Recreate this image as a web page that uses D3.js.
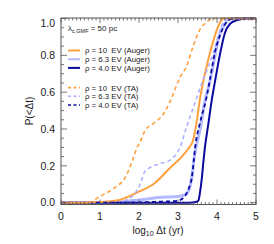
<!DOCTYPE html>
<html>
<head>
<meta charset="utf-8">
<script src="https://cdn.jsdelivr.net/npm/d3@7"></script>
<style>
  body { margin: 0; background: #fff; }
  text { font-family: "Liberation Sans", Arial, sans-serif; fill: #222; }
</style>
</head>
<body>
<div id="chart"></div>
<script>
// cumulative distributions, x = log10 dt (yr)
const augerX10 = [0, 0.6, 1.0, 1.5, 1.95, 2.4, 2.8, 3.1, 3.25, 3.38, 3.48, 3.56, 3.64, 3.78, 3.95, 4.08, 4.16, 5];
const augerY10 = [0, 0, 0.004, 0.015, 0.055, 0.105, 0.19, 0.25, 0.29, 0.335, 0.44, 0.56, 0.65, 0.78, 0.91, 0.98, 1.0, 1.0];
const augerX63 = [0, 1.3, 1.8, 2.2, 2.5, 3.0, 3.2, 3.28, 3.33, 3.37, 3.42, 3.56, 3.69, 3.82, 3.95, 4.05, 4.2, 4.35, 5];
const augerY63 = [0, 0, 0.01, 0.02, 0.028, 0.033, 0.045, 0.07, 0.11, 0.16, 0.25, 0.39, 0.55, 0.66, 0.8, 0.9, 0.97, 1.0, 1.0];
const augerX40 = [0, 3.3, 3.45, 3.52, 3.56, 3.61, 3.65, 3.69, 3.78, 3.86, 3.95, 4.0, 4.1, 4.2, 4.33, 4.5, 4.75, 5];
const augerY40 = [0, 0, 0.003, 0.01, 0.05, 0.13, 0.22, 0.3, 0.43, 0.55, 0.66, 0.72, 0.83, 0.92, 0.97, 0.99, 1.0, 1.0];

const taX10 = [0, 0.7, 1.0, 1.33, 1.68, 1.85, 1.95, 2.03, 2.15, 2.37, 2.62, 2.8, 3.05, 3.22, 3.39, 3.56, 3.73, 3.9, 5];
const taY10 = [0, 0, 0.035, 0.075, 0.15, 0.24, 0.3, 0.33, 0.39, 0.43, 0.48, 0.55, 0.68, 0.74, 0.85, 0.94, 0.98, 1.0, 1.0];
const taX63 = [0, 1.4, 1.77, 2.03, 2.15, 2.28, 2.5, 2.79, 3.05, 3.22, 3.35, 3.48, 3.65, 3.78, 3.9, 4.05, 4.25, 5];
const taY63 = [0, 0, 0.025, 0.1, 0.17, 0.19, 0.21, 0.23, 0.3, 0.41, 0.49, 0.57, 0.67, 0.74, 0.81, 0.92, 1.0, 1.0];
const taX40 = [0, 1.5, 2.5, 2.96, 3.1, 3.22, 3.3, 3.35, 3.4, 3.44, 3.56, 3.73, 3.82, 3.95, 4.08, 4.21, 4.41, 5];
const taY40 = [0, 0, 0.005, 0.01, 0.02, 0.05, 0.09, 0.13, 0.22, 0.3, 0.43, 0.57, 0.67, 0.82, 0.91, 0.97, 1.0, 1.0];

const xTicks = [0, 1, 2, 3, 4, 5];
const yTicks = [0, 0.2, 0.4, 0.6, 0.8, 1.0];
const legendLabels = ["ρ = 10  EV (Auger)", "ρ = 6.3 EV (Auger)", "ρ = 4.0 EV (Auger)",
                      "ρ = 10  EV (TA)", "ρ = 6.3 EV (TA)", "ρ = 4.0 EV (TA)"];

const orange = "#ffa040", light = "#aab0ff", dark = "#0a0aa0";

const series = [
  { x: augerX63, y: augerY63, color: "#b4baff", width: 3, dash: null },
  { x: augerX40, y: augerY40, color: dark, width: 2, dash: null },
  { x: augerX10, y: augerY10, color: orange, width: 2, dash: null },
  { x: taX63, y: taY63, color: light, width: 1.6, dash: "4,3" },
  { x: taX40, y: taY40, color: dark, width: 1.8, dash: "4,3" },
  { x: taX10, y: taY10, color: orange, width: 1.6, dash: "4,3" }
];

const W = 274, H = 244;
const pLeft = 61, pRight = 256, pTop = 18, pBottom = 204.5;

const svg = d3.select("#chart").append("svg").attr("width", W).attr("height", H);

const x = d3.scaleLinear().domain([0, 5]).range([pLeft, pRight]);
const y = d3.scaleLinear().domain([-0.01, 1.0]).range([pBottom, pTop + 0.5]);

// curves
const line = d3.line().x(d => x(d[0])).y(d => y(d[1])).curve(d3.curveMonotoneX);
svg.append("g").selectAll("path")
  .data(series)
  .join("path")
  .attr("d", s => line(s.x.map((v, i) => [v, s.y[i]])))
  .attr("fill", "none")
  .attr("stroke", s => s.color)
  .attr("stroke-width", s => s.width)
  .attr("stroke-dasharray", s => s.dash);

// frame with inward ticks on all four sides
const ax = "#555";
svg.append("rect").attr("x", pLeft).attr("y", pTop).attr("width", pRight - pLeft).attr("height", pBottom - pTop)
  .attr("fill", "none").attr("stroke", ax).attr("stroke-width", 1);

const xMinor = d3.range(0, 5.001, 0.1);
const yMinor = d3.range(0, 1.001, 0.05);
const tk = svg.append("g").attr("stroke", ax).attr("stroke-width", 0.8);
xMinor.forEach(v => {
  const major = Math.abs(v - Math.round(v)) < 1e-6;
  const len = major ? 5 : 2.5;
  tk.append("line").attr("x1", x(v)).attr("x2", x(v)).attr("y1", pBottom).attr("y2", pBottom - len);
  tk.append("line").attr("x1", x(v)).attr("x2", x(v)).attr("y1", pTop).attr("y2", pTop + len);
});
yMinor.forEach(v => {
  const major = Math.abs(v * 5 - Math.round(v * 5)) < 1e-6;
  const len = major ? 6 : 3;
  tk.append("line").attr("y1", y(v)).attr("y2", y(v)).attr("x1", pLeft).attr("x2", pLeft + len);
  tk.append("line").attr("y1", y(v)).attr("y2", y(v)).attr("x1", pRight).attr("x2", pRight - len);
});

// tick labels
svg.append("g").selectAll("text").data(xTicks).join("text")
  .attr("x", d => x(d)).attr("y", 220).attr("text-anchor", "middle")
  .attr("font-size", 10.5).text(d => d);
svg.append("g").selectAll("text").data(yTicks).join("text")
  .attr("x", 55).attr("y", d => d === 1 ? 26.5 : y(d) + 3.8).attr("text-anchor", "end")
  .attr("font-size", 10.5).text(d => d.toFixed(1));

// axis titles
const xl = svg.append("text").attr("x", 158).attr("y", 234).attr("text-anchor", "middle").attr("font-size", 10);
xl.append("tspan").text("log");
xl.append("tspan").attr("font-size", 7).attr("dy", 2).text("10");
xl.append("tspan").attr("dy", -2).text(" Δt (yr)");

svg.append("text").attr("transform", "translate(33,111) rotate(-90)").attr("text-anchor", "middle")
  .attr("font-size", 10).text("P(<Δt)");

// legend
const lam = svg.append("text").attr("x", 68).attr("y", 31).attr("font-size", 8);
lam.append("tspan").text("λ");
lam.append("tspan").attr("font-size", 5.5).attr("dy", 1.5).text("c,GMF");
lam.append("tspan").attr("dy", -1.5).text(" = 50 pc");

const legendY = [50.5, 59.2, 67.9, 87.6, 96.3, 105];
const legendStyle = [
  { color: orange, dash: null, width: 2 }, { color: "#b4baff", dash: null, width: 2 }, { color: dark, dash: null, width: 2 },
  { color: orange, dash: "3,2.5", width: 1.6 }, { color: light, dash: "3,2.5", width: 1.6 }, { color: dark, dash: "3,2.5", width: 1.6 }
];
const lg = svg.append("g");
legendLabels.forEach((lab, i) => {
  lg.append("line").attr("x1", 68).attr("x2", 80).attr("y1", legendY[i]).attr("y2", legendY[i])
    .attr("stroke", legendStyle[i].color).attr("stroke-width", legendStyle[i].width)
    .attr("stroke-dasharray", legendStyle[i].dash);
  lg.append("text").attr("x", 85).attr("y", legendY[i] + 2.9).attr("font-size", 7.8)
    .attr("xml:space", "preserve").style("white-space", "pre").text(lab);
});
</script>
</body>
</html>
